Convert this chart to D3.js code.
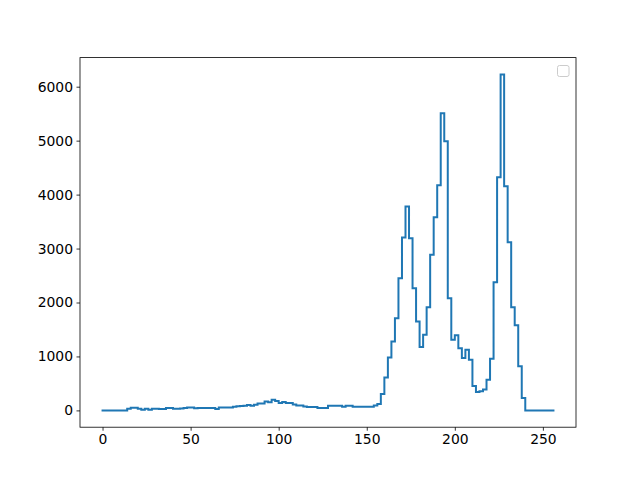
<!DOCTYPE html>
<html>
<head>
<meta charset="utf-8">
<script src="https://cdn.jsdelivr.net/npm/d3@7"></script>
<style>
  html, body { margin: 0; padding: 0; background: #fff; }
  svg text { font-family: "DejaVu Sans", sans-serif; font-size: 13.9px; fill: #000; }
</style>
</head>
<body>
<svg id="chart" width="640" height="480"></svg>
<script>
// Bin edges run 0..256 in steps of 2 (128 bins)
const binEdges = d3.range(0, 257, 2);
const counts = [
  0, 0, 0, 0, 0, 0, 0, 31, 49, 49,
  31, 12, 31, 12, 31, 31, 25, 25, 43, 43,
  30, 30, 35, 43, 56, 56, 40, 43, 43, 43,
  43, 43, 28, 56, 56, 56, 56, 68, 75, 80,
  85, 100, 85, 105, 130, 130, 167, 150, 198, 173,
  136, 154, 136, 136, 111, 93, 93, 74, 62, 62,
  62, 43, 43, 43, 86, 86, 86, 86, 68, 86,
  86, 68, 68, 68, 68, 68, 68, 92, 117, 302,
  611, 981, 1278, 1710, 2451, 3204, 3778, 3191, 2265, 1648,
  1173, 1401, 1913, 2883, 3580, 4173, 5506, 4988, 2080, 1309,
  1395, 1154, 969, 1123, 938, 450, 340, 357, 389, 568,
  957, 2377, 4321, 6228, 4154, 3117, 1914, 1580, 820, 228,
  0, 0, 0, 0, 0, 0, 0, 0
];
const xTicks = [0, 50, 100, 150, 200, 250];
const yTicks = [0, 1000, 2000, 3000, 4000, 5000, 6000];

const svg = d3.select("#chart");
const L = 80, R = 576, T = 57.6, B = 427.2;

const xMin = binEdges[0], xMax = binEdges[binEdges.length - 1];
const xPad = (xMax - xMin) * 0.05;
const yMax = d3.max(counts), yMin = 0;
const yPad = (yMax - yMin) * 0.05;

const x = d3.scaleLinear().domain([xMin - xPad, xMax + xPad]).range([L, R]);
const y = d3.scaleLinear().domain([yMin - yPad, yMax + yPad]).range([B, T]);

// step path
const pts = [];
counts.forEach((c, i) => {
  pts.push([binEdges[i], c]);
  pts.push([binEdges[i + 1], c]);
});
const line = d3.line().x(d => x(d[0])).y(d => y(d[1]));
svg.append("path")
  .attr("d", line(pts))
  .attr("fill", "none")
  .attr("stroke", "#1f77b4")
  .attr("stroke-width", 2)
  .attr("stroke-linejoin", "miter")
  .attr("stroke-linecap", "square");

// axes
const xAxis = d3.axisBottom(x).tickValues(xTicks).tickSize(3.5).tickPadding(3.5).tickFormat(d3.format("d"));
const yAxis = d3.axisLeft(y).tickValues(yTicks).tickSize(3.5).tickPadding(3.5).tickFormat(d3.format("d"));

const gx = svg.append("g").attr("transform", `translate(0,${B})`).call(xAxis);
const gy = svg.append("g").attr("transform", `translate(${L},0)`).call(yAxis);
[gx, gy].forEach(g => {
  g.select(".domain").remove();
  g.selectAll(".tick line").attr("stroke", "#000").attr("stroke-width", 0.8);
  g.selectAll(".tick text").attr("font-family", "DejaVu Sans").attr("font-size", "13.9px").attr("fill", "#000");
});

// frame
svg.append("rect")
  .attr("x", L).attr("y", T).attr("width", R - L).attr("height", B - T)
  .attr("fill", "none").attr("stroke", "#000").attr("stroke-width", 0.8);

// empty legend box
svg.append("rect")
  .attr("x", 557.5).attr("y", 65.5).attr("width", 11.5).attr("height", 11)
  .attr("rx", 2).attr("ry", 2)
  .attr("fill", "#fff").attr("fill-opacity", 0.8)
  .attr("stroke", "#cccccc").attr("stroke-width", 1);
</script>
</body>
</html>
